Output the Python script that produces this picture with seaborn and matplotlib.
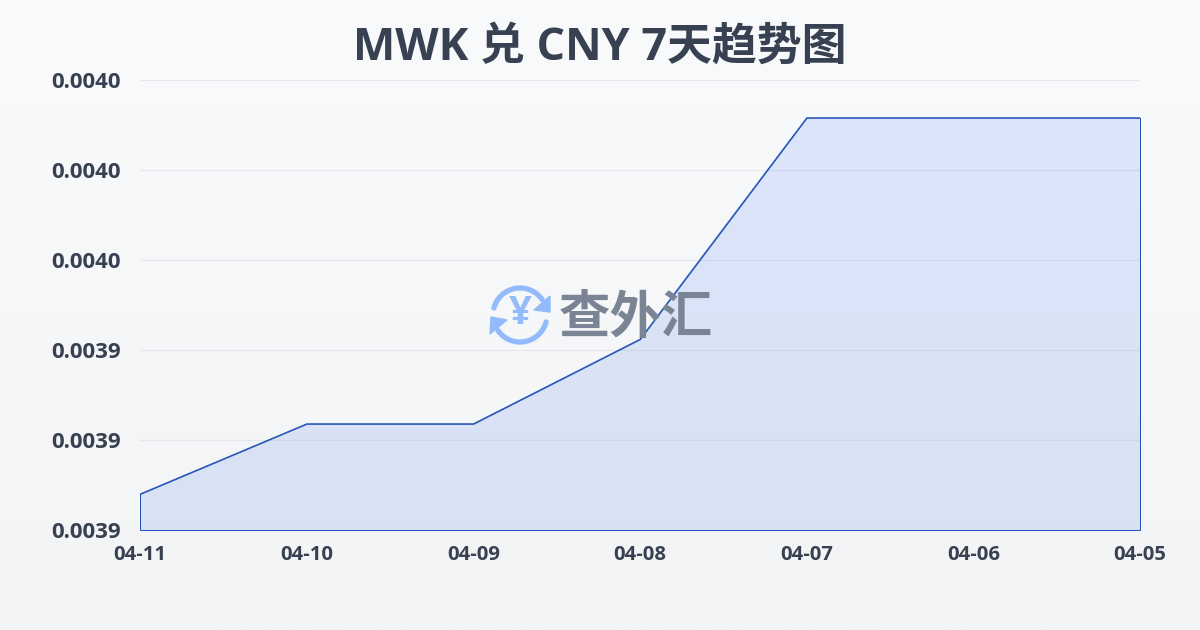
import numpy as np
import pandas as pd
import matplotlib
matplotlib.use("Agg")
import matplotlib.pyplot as plt
from matplotlib.patches import Arc, Polygon
from matplotlib.ticker import FormatStrFormatter
import seaborn as sns

dates = ["04-11", "04-10", "04-09", "04-08", "04-07", "04-06", "04-05"]
rates = [0.003908, 0.0039236, 0.0039236, 0.0039424, 0.0039916, 0.0039916, 0.0039916]
y_ticks = [0.00390, 0.00392, 0.00394, 0.00396, 0.00398, 0.00400]
title = "MWK 兑 CNY 7天趋势图"
watermark = "查外汇"

sns.set_theme(style="white")
plt.rcParams["font.family"] = ["Open Sans", "Noto Sans CJK SC", "DejaVu Sans"]

df = pd.DataFrame({"date": dates, "rate": rates})

dark = "#374151"
line_color = "#1e50b8"
logo_blue = "#93bbfb"

fig = plt.figure(figsize=(12, 6.3), dpi=100)

# background gradient
bg = fig.add_axes([0, 0, 1, 1], zorder=0)
bg.imshow(np.linspace(0, 1, 256).reshape(-1, 1), aspect="auto", extent=[0, 1, 0, 1],
          cmap=matplotlib.colors.LinearSegmentedColormap.from_list("bg", ["#f9fafc", "#f3f4f6"]))
bg.axis("off")

ax = fig.add_axes([140 / 1200, 100 / 630, 1000 / 1200, 450 / 630], zorder=1)
ax.patch.set_alpha(0)

ax.fill_between(df["date"], df["rate"], y_ticks[0], facecolor=(0.145, 0.388, 0.922, 0.13),
                edgecolor=line_color, linewidth=0.7, zorder=2)
sns.lineplot(data=df, x="date", y="rate", sort=False, color=line_color, linewidth=0.7, ax=ax, zorder=3)

ax.set_xlim(0, len(dates) - 1)
ax.set_ylim(y_ticks[0], y_ticks[-1])
ax.set_yticks(y_ticks)
ax.yaxis.set_major_formatter(FormatStrFormatter("%.4f"))
ax.grid(axis="y", color="#e5e7eb", linewidth=0.8)
ax.set_axisbelow(True)
sns.despine(ax=ax, left=True, bottom=True, top=True, right=True)
ax.set_xlabel("")
ax.set_ylabel("")
ax.tick_params(axis="y", length=0, pad=13.5, labelsize=16, labelcolor=dark)
ax.tick_params(axis="x", length=7, width=0.8, color="#e5e7eb", pad=3.5, labelsize=14.6, labelcolor=dark)
for lab in ax.get_xticklabels() + ax.get_yticklabels():
    lab.set_fontweight("bold")

fig.text(0.5, 1 - 48 / 630, title, ha="center", va="center", fontsize=32.3, fontweight="bold", color=dark)

# watermark logo, drawn in pixel coordinates on top of the chart
ov = fig.add_axes([0, 0, 1, 1], zorder=2)
ov.set_xlim(0, 1200)
ov.set_ylim(630, 0)
ov.axis("off")
ov.patch.set_alpha(0)
cx, cy = 520, 315
ov.add_patch(Arc((cx, cy), 54, 54, theta1=195, theta2=325, color=logo_blue, lw=3.8, capstyle="round"))
ov.add_patch(Arc((cx, cy), 54, 54, theta1=15, theta2=145, color=logo_blue, lw=3.8, capstyle="round"))
ov.add_patch(Polygon([[550, 296], [550, 312], [534, 310]], color=logo_blue))
ov.add_patch(Polygon([[490, 334], [491, 317], [507, 320]], color=logo_blue))
ov.text(cx, cy - 1, "¥", ha="center", va="center", fontsize=29, fontweight="bold", color=logo_blue,
        family=["Open Sans", "DejaVu Sans"])
ov.text(636, 317, watermark, ha="center", va="center", fontsize=37, fontweight="bold", color="#7b8494",
        family=["Noto Sans CJK SC", "DejaVu Sans"])

fig.savefig("out.png", dpi=100)
